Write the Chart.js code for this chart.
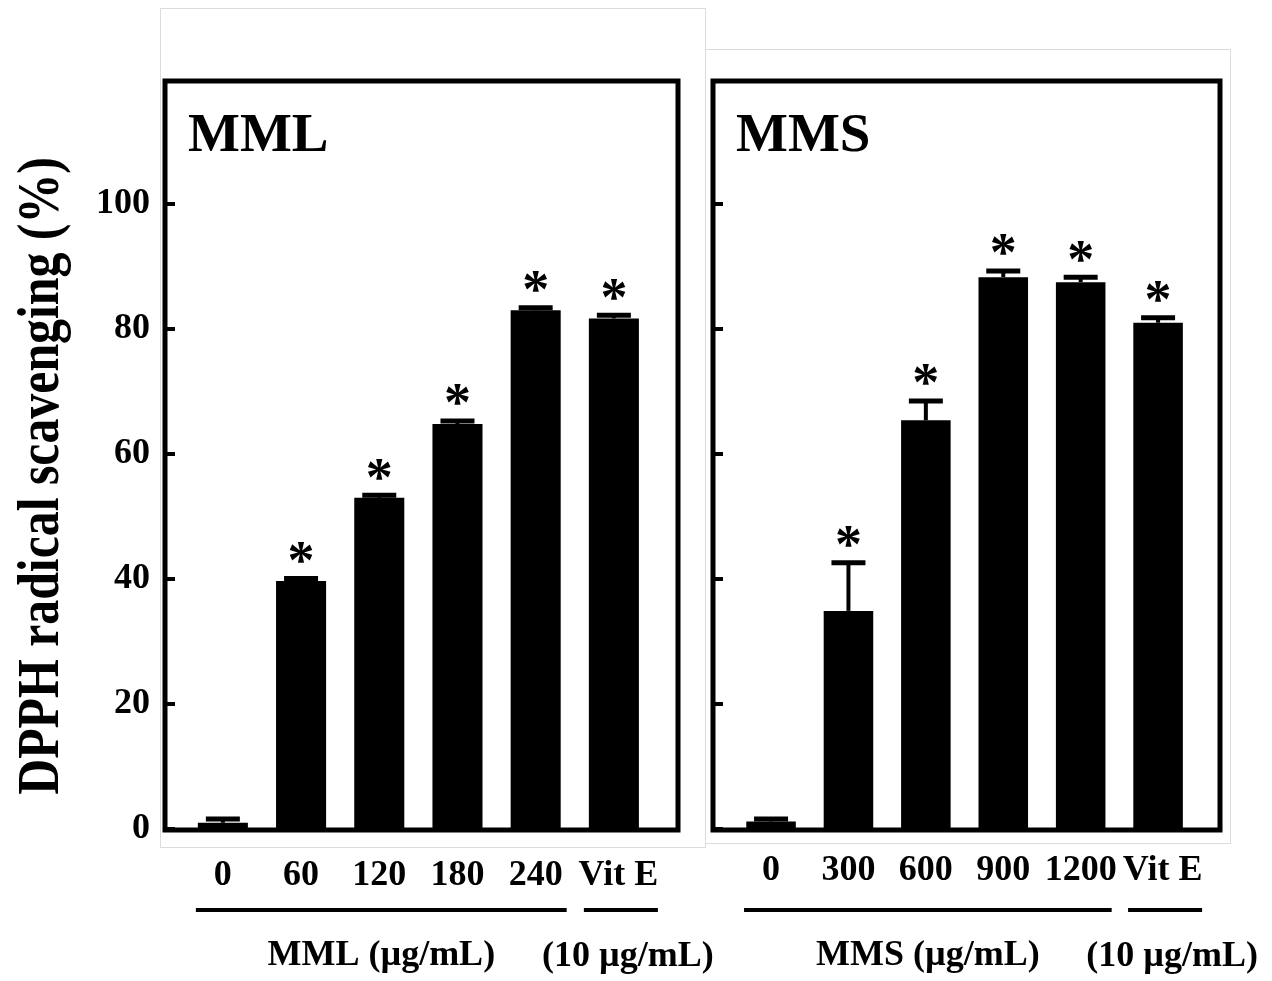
<!DOCTYPE html>
<html>
<head>
<meta charset="utf-8">
<script src="https://cdn.jsdelivr.net/npm/chart.js@4.4.1/dist/chart.umd.min.js"></script>
<style>
  html, body { margin: 0; padding: 0; background: #fff; }
  #wrap { position: relative; width: 1272px; height: 981px; overflow: hidden; background: #fff; }
  #wrap canvas { position: absolute; left: 0; top: 0; }
  .sheet { position: absolute; border: 1px solid #dcdcdc; box-sizing: border-box; }
</style>
</head>
<body>
<div id="wrap">
  <div class="sheet" style="left:160px;top:8px;width:546px;height:840px"></div>
  <div class="sheet" style="left:705px;top:49px;width:526px;height:795px"></div>
  <canvas id="mmlChart" width="1272" height="981"></canvas>
  <canvas id="mmsChart" width="1272" height="981"></canvas>
</div>
<script>
// ---- data ----
const yAxisTitle = 'DPPH radical scavenging (%)';
const yTicks = [0, 20, 40, 60, 80, 100];

const mmlDoses = ['0', '60', '120', '180', '240', ' Vit E'];
const mmlMeans = [1.0, 39.7, 53.0, 64.8, 83.0, 81.7];
const mmlErrors = [0.6, 0.4, 0.4, 0.5, 0.4, 0.5];
const mmlSignificant = [false, true, true, true, true, true];

const mmsDoses = ['0', '300', '600', '900', '1200', ' Vit E'];
const mmsMeans = [1.2, 34.9, 65.4, 88.3, 87.5, 81.0];
const mmsErrors = [0.4, 7.7, 3.1, 1.0, 0.8, 0.8];
const mmsSignificant = [false, true, true, true, true, true];

// ---- drawing helpers ----
const SERIF = '"Liberation Serif", "Times New Roman", serif';

// Frame, inward ticks, error bars, asterisks, panel name, group brackets
const panelDecor = {
  id: 'panelDecor',
  afterDatasetsDraw(chart, args, o) {
    const { ctx, chartArea: a, scales: { x, y } } = chart;
    ctx.save();
    ctx.strokeStyle = '#000';
    ctx.fillStyle = '#000';
    ctx.lineCap = 'butt';

    // panel frame
    ctx.lineWidth = 5;
    ctx.strokeRect(a.left, a.top + 2, a.right - a.left, a.bottom - a.top - 1);

    // short inward tick marks on the value axis
    ctx.lineWidth = 4;
    yTicks.forEach(v => {
      const py = y.getPixelForValue(v);
      ctx.beginPath();
      ctx.moveTo(a.left, py);
      ctx.lineTo(a.left + 10, py);
      ctx.stroke();
    });

    // upper error bars and significance marks
    ctx.font = `bold 54px ${SERIF}`;
    ctx.textAlign = 'center';
    ctx.textBaseline = 'alphabetic';
    const star = ctx.measureText('*');
    const starShift = (star.actualBoundingBoxAscent - star.actualBoundingBoxDescent) / 2;
    o.means.forEach((m, i) => {
      const px = x.getPixelForValue(i);
      const pMean = y.getPixelForValue(m);
      const pTop = y.getPixelForValue(m + o.errors[i]);
      ctx.lineWidth = 4;
      ctx.beginPath();
      ctx.moveTo(px, pMean);
      ctx.lineTo(px, pTop);
      ctx.stroke();
      ctx.lineWidth = 5;
      ctx.beginPath();
      ctx.moveTo(px - 17, pTop);
      ctx.lineTo(px + 17, pTop);
      ctx.stroke();
      if (o.significant[i]) {
        ctx.fillText('*', px, pTop - 26 + starShift);
      }
    });

    // panel name
    ctx.textAlign = 'left';
    ctx.font = `bold 55px ${SERIF}`;
    ctx.fillText(o.name, a.left + 23, a.top + 72);

    // group brackets under the category labels
    const n = o.means.length;
    const lineY = a.bottom + 81;
    const g0 = x.getPixelForValue(0) - 27;
    const g1 = x.getPixelForValue(n - 2) + 31;
    const r0 = x.getPixelForValue(n - 1) - 30;
    const r1 = x.getPixelForValue(n - 1) + 44;
    ctx.lineWidth = 4;
    ctx.beginPath();
    ctx.moveTo(g0, lineY); ctx.lineTo(g1, lineY);
    ctx.moveTo(r0, lineY); ctx.lineTo(r1, lineY);
    ctx.stroke();

    ctx.font = `bold 36px ${SERIF}`;
    ctx.textAlign = 'center';
    ctx.textBaseline = 'middle';
    ctx.fillText(o.groupLabel, (g0 + g1) / 2, a.bottom + 127);
    ctx.fillText(o.refLabel, x.getPixelForValue(n - 1) + 14, a.bottom + 128);

    // shared value-axis title
    if (o.yTitle) {
      ctx.translate(42, a.top + (a.bottom - a.top) / 2 + 22);
      ctx.rotate(-Math.PI / 2);
      ctx.scale(0.83, 1);
      ctx.font = `bold 60px ${SERIF}`;
      ctx.textAlign = 'center';
      ctx.textBaseline = 'middle';
      ctx.fillText(o.yTitle, 0, 0);
    }
    ctx.restore();
  }
};

function makePanel(canvasId, cfg) {
  const n = cfg.doses.length;
  return new Chart(document.getElementById(canvasId), {
    type: 'bar',
    data: {
      datasets: [{
        data: cfg.means.map((v, i) => ({ x: i, y: v })),
        backgroundColor: '#000',
        borderWidth: 0,
        barPercentage: 0.64,
        categoryPercentage: 1.0
      }]
    },
    options: {
      responsive: false,
      animation: false,
      devicePixelRatio: 1,
      layout: { padding: cfg.padding },
      plugins: {
        legend: { display: false },
        tooltip: { enabled: false },
        title: { display: false },
        panelDecor: {
          name: cfg.name,
          means: cfg.means,
          errors: cfg.errors,
          significant: cfg.significant,
          groupLabel: cfg.groupLabel,
          refLabel: '(10 \u00b5g/mL)',
          yTitle: cfg.yTitle
        }
      },
      scales: {
        x: {
          type: 'linear',
          offset: false,
          min: cfg.xMin,
          max: n - 1 + cfg.xMaxPad,
          grid: { display: false, offset: false, drawTicks: false },
          border: { display: false },
          afterBuildTicks: s => { s.ticks = cfg.doses.map((_, i) => ({ value: i })); },
          afterFit: s => { s.height = 60; },
          ticks: {
            autoSkip: false,
            maxRotation: 0,
            minRotation: 0,
            padding: cfg.xLabelPad,
            color: '#000',
            font: { family: SERIF, size: 36, weight: 'bold' },
            callback: v => cfg.doses[v]
          }
        },
        y: {
          min: 0,
          max: 120,
          grid: { display: false, drawTicks: false },
          border: { display: false },
          afterBuildTicks: s => { s.ticks = yTicks.map(v => ({ value: v })); },
          afterFit: s => { s.width = cfg.yWidth; },
          ticks: {
            display: cfg.showYLabels,
            padding: 15,
            color: '#000',
            font: { family: SERIF, size: 36, weight: 'bold' }
          }
        }
      }
    },
    plugins: [panelDecor]
  });
}

makePanel('mmlChart', {
  name: 'MML',
  doses: mmlDoses,
  means: mmlMeans,
  errors: mmlErrors,
  significant: mmlSignificant,
  groupLabel: 'MML (\u00b5g/mL)',
  yTitle: yAxisTitle,
  showYLabels: true,
  yWidth: 165,
  xMin: -0.74,
  xMaxPad: 0.82,
  xLabelPad: 25,
  padding: { left: 0, top: 79, right: 594, bottom: 92 }
});

makePanel('mmsChart', {
  name: 'MMS',
  doses: mmsDoses,
  means: mmsMeans,
  errors: mmsErrors,
  significant: mmsSignificant,
  groupLabel: 'MMS (\u00b5g/mL)',
  yTitle: null,
  showYLabels: false,
  yWidth: 13,
  xMin: -0.75,
  xMaxPad: 0.80,
  xLabelPad: 20,
  padding: { left: 700, top: 79, right: 52, bottom: 92 }
});
</script>
</body>
</html>
